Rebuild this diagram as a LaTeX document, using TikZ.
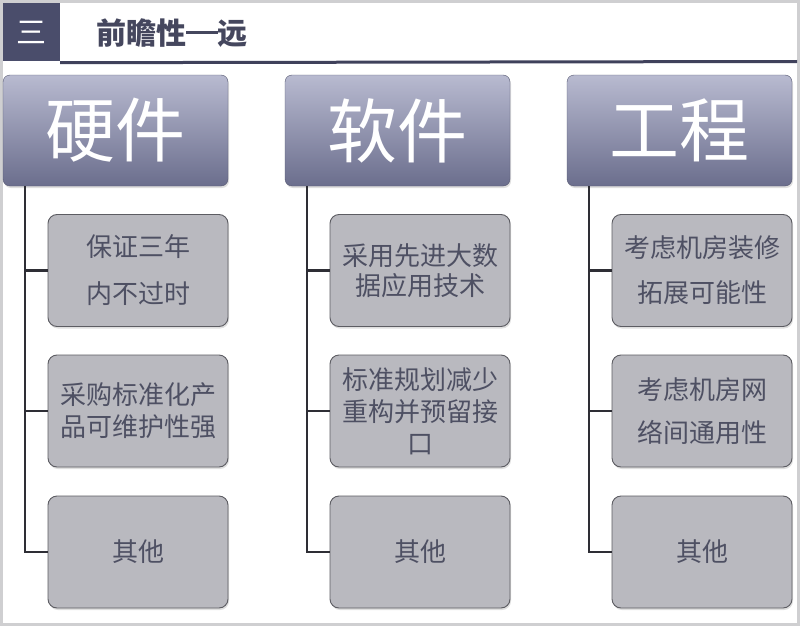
\documentclass[tikz,border=0pt]{standalone}
\usepackage{fontspec}
\setmainfont{Noto Sans CJK SC}
\usetikzlibrary{shadows}
\definecolor{framegray}{HTML}{CFCFD1}
\definecolor{hdrblue}{HTML}{4A4D6B}
\definecolor{titletext}{HTML}{45475E}
\definecolor{childtext}{HTML}{4E5063}
\definecolor{childfill}{HTML}{B9B9BF}
\definecolor{childborder}{HTML}{5C5C62}
\definecolor{toptop}{HTML}{B8BAD0}
\definecolor{topbot}{HTML}{6B6E8D}
\definecolor{connline}{HTML}{2E2E35}
\tikzset{
  topbox/.style={rounded corners=7pt, minimum width=225pt, minimum height=111pt,
    top color=toptop, bottom color=topbot, draw=topbot!80!black, line width=0.4pt,
    text=white, font=\fontsize{70}{70}\selectfont, inner sep=0pt,
    drop shadow={shadow xshift=1pt, shadow yshift=-2pt, opacity=0.25}},
  childbox/.style={rounded corners=9pt, minimum width=180pt, minimum height=112pt,
    fill=childfill, draw=childborder, line width=0.9pt, text=childtext,
    align=center, font=\fontsize{26}{32}\selectfont, inner sep=0pt,
    drop shadow={shadow xshift=1pt, shadow yshift=-2pt, opacity=0.25}},
  conn/.style={draw=connline, line width=2.4pt},
}
\begin{document}
\begin{tikzpicture}[x=1pt,y=-1pt]
\useasboundingbox (0,0) rectangle (800,626);
\fill[framegray] (0,0) rectangle (800,626);
\fill[white] (3,3) rectangle (797,623);
% header
\node[fill=hdrblue, minimum width=57pt, minimum height=58pt, inner sep=0pt,
  text=white, font=\fontsize{30}{30}\selectfont] (hdr) at (31.5,32) {三};
\node[anchor=west, text=titletext, inner sep=0pt,
  font=\fontsize{30}{30}\selectfont\bfseries] (title) at (96,33) {前瞻性\rule[0.36em]{1.05em}{0.08em}远};
\coordinate (lineend) at (797,61.5);
\draw[draw=hdrblue!85!black, line width=3pt] (hdr.south east) ++(0,-1.5pt) -- (lineend);
% top boxes
\node[topbox] (t1) at (115.5,130.5) {硬件};
\node[topbox] (t2) at (397.5,130.5) {软件};
\node[topbox] (t3) at (679.5,130.5) {工程};
% children column 1
\node[childbox] (c11) at (138,270.5) {保证三年\\[15pt]内不过时};
\node[childbox] (c12) at (138,411) {采购标准化产\\品可维护性强};
\node[childbox] (c13) at (138,552) {其他};
% column 2
\node[childbox] (c21) at (420,270.5) {采用先进大数\\[-2pt]据应用技术};
\node[childbox] (c22) at (420,411) {标准规划减少\\重构并预留接\\口};
\node[childbox] (c23) at (420,552) {其他};
% column 3
\node[childbox] (c31) at (702,270.5) {考虑机房装修\\[13pt]拓展可能性};
\node[childbox] (c32) at (702,411) {考虑机房网\\[11pt]络间通用性};
\node[childbox] (c33) at (702,552) {其他};
% connectors
\coordinate (s1) at ([xshift=22pt]t1.south west);
\coordinate (s2) at ([xshift=22pt]t2.south west);
\coordinate (s3) at ([xshift=22pt]t3.south west);
\draw[conn] (s1) |- (c13.west);
\draw[conn] (s1 |- c11.west) -- (c11.west);
\draw[conn] (s1 |- c12.west) -- (c12.west);
\draw[conn] (s2) |- (c23.west);
\draw[conn] (s2 |- c21.west) -- (c21.west);
\draw[conn] (s2 |- c22.west) -- (c22.west);
\draw[conn] (s3) |- (c33.west);
\draw[conn] (s3 |- c31.west) -- (c31.west);
\draw[conn] (s3 |- c32.west) -- (c32.west);
\end{tikzpicture}
\end{document}
